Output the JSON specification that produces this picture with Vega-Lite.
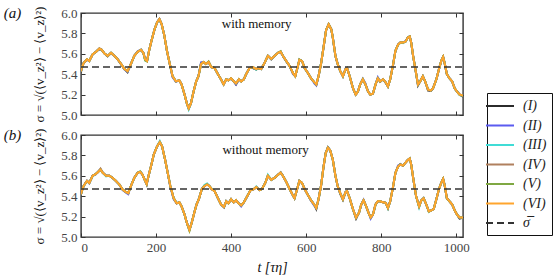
{
 "$schema": "https://vega.github.io/schema/vega-lite/v6.json",
 "padding": {"left": 3, "top": 5, "right": 2, "bottom": 5},
 "background": "white",
 "bounds": "flush",
 "spacing": 20,
 "config": {
  "font": "Liberation Serif",
  "view": {"stroke": "#333", "strokeWidth": 1.4},
  "axis": {"domain": false, "grid": false, "tickSize": -4, "tickColor": "#333", "tickWidth": 1, "labelFont": "Liberation Serif", "labelFontSize": 13, "labelColor": "#444", "labelPadding": 8, "titleFont": "Liberation Serif", "titleFontSize": 13, "titleFontWeight": "normal", "titleColor": "#111"},
  "legend": {"orient": "none", "legendX": 406, "legendY": 80, "strokeColor": "#111", "fillColor": "white", "padding": 5, "cornerRadius": 0, "symbolType": "M-2,0L2,0", "symbolSize": 196, "symbolStrokeWidth": 2, "rowPadding": 4.5, "labelFont": "Liberation Serif", "labelFontSize": 14, "labelFontStyle": "italic", "labelColor": "#222", "labelOffset": 15}
 },
 "datasets": {
  "a": [
   {"t":0,"I":5.42,"II":5.43,"III":5.43,"IV":5.43,"V":5.43,"VI":5.43},
   {"t":2,"I":5.46,"II":5.46,"III":5.46,"IV":5.46,"V":5.46,"VI":5.46},
   {"t":7,"I":5.51,"II":5.51,"III":5.51,"IV":5.51,"V":5.51,"VI":5.51},
   {"t":16,"I":5.545,"II":5.54,"III":5.545,"IV":5.545,"V":5.545,"VI":5.545},
   {"t":22,"I":5.53,"II":5.53,"III":5.53,"IV":5.53,"V":5.53,"VI":5.53},
   {"t":31,"I":5.595,"II":5.595,"III":5.595,"IV":5.595,"V":5.595,"VI":5.595},
   {"t":40,"I":5.62,"II":5.62,"III":5.62,"IV":5.62,"V":5.62,"VI":5.62},
   {"t":49,"I":5.645,"II":5.65,"III":5.65,"IV":5.655,"V":5.65,"VI":5.65},
   {"t":55,"I":5.64,"II":5.64,"III":5.64,"IV":5.64,"V":5.64,"VI":5.64},
   {"t":62,"I":5.605,"II":5.605,"III":5.605,"IV":5.605,"V":5.605,"VI":5.605},
   {"t":71,"I":5.575,"II":5.58,"III":5.58,"IV":5.58,"V":5.58,"VI":5.58},
   {"t":80,"I":5.61,"II":5.605,"III":5.61,"IV":5.61,"V":5.61,"VI":5.61},
   {"t":89,"I":5.58,"II":5.58,"III":5.58,"IV":5.58,"V":5.58,"VI":5.58},
   {"t":98,"I":5.545,"II":5.545,"III":5.545,"IV":5.545,"V":5.545,"VI":5.545},
   {"t":107,"I":5.495,"II":5.5,"III":5.5,"IV":5.5,"V":5.5,"VI":5.5},
   {"t":116,"I":5.45,"II":5.445,"III":5.45,"IV":5.45,"V":5.45,"VI":5.45},
   {"t":124,"I":5.42,"II":5.425,"III":5.43,"IV":5.43,"V":5.43,"VI":5.43},
   {"t":133,"I":5.5,"II":5.5,"III":5.5,"IV":5.5,"V":5.5,"VI":5.5},
   {"t":142,"I":5.58,"II":5.58,"III":5.58,"IV":5.58,"V":5.58,"VI":5.58},
   {"t":151,"I":5.62,"II":5.625,"III":5.62,"IV":5.62,"V":5.62,"VI":5.62},
   {"t":160,"I":5.64,"II":5.64,"III":5.64,"IV":5.64,"V":5.64,"VI":5.64},
   {"t":166,"I":5.61,"II":5.61,"III":5.61,"IV":5.61,"V":5.61,"VI":5.61},
   {"t":171,"I":5.545,"II":5.545,"III":5.535,"IV":5.545,"V":5.535,"VI":5.545},
   {"t":176,"I":5.53,"II":5.53,"III":5.53,"IV":5.53,"V":5.525,"VI":5.53},
   {"t":182,"I":5.64,"II":5.64,"III":5.64,"IV":5.64,"V":5.64,"VI":5.64},
   {"t":188,"I":5.73,"II":5.73,"III":5.73,"IV":5.73,"V":5.73,"VI":5.73},
   {"t":196,"I":5.84,"II":5.84,"III":5.84,"IV":5.84,"V":5.84,"VI":5.84},
   {"t":203,"I":5.91,"II":5.91,"III":5.91,"IV":5.91,"V":5.91,"VI":5.91},
   {"t":209,"I":5.94,"II":5.94,"III":5.935,"IV":5.94,"V":5.94,"VI":5.94},
   {"t":215,"I":5.89,"II":5.89,"III":5.89,"IV":5.89,"V":5.89,"VI":5.89},
   {"t":222,"I":5.78,"II":5.78,"III":5.78,"IV":5.78,"V":5.78,"VI":5.78},
   {"t":229,"I":5.63,"II":5.63,"III":5.63,"IV":5.63,"V":5.63,"VI":5.63},
   {"t":236,"I":5.51,"II":5.51,"III":5.51,"IV":5.51,"V":5.51,"VI":5.51},
   {"t":244,"I":5.38,"II":5.37,"III":5.38,"IV":5.38,"V":5.38,"VI":5.38},
   {"t":253,"I":5.33,"II":5.325,"III":5.33,"IV":5.33,"V":5.33,"VI":5.33},
   {"t":262,"I":5.34,"II":5.34,"III":5.34,"IV":5.34,"V":5.34,"VI":5.34},
   {"t":268,"I":5.3,"II":5.3,"III":5.3,"IV":5.3,"V":5.3,"VI":5.3},
   {"t":276,"I":5.2,"II":5.2,"III":5.2,"IV":5.2,"V":5.2,"VI":5.2},
   {"t":282,"I":5.115,"II":5.115,"III":5.115,"IV":5.115,"V":5.115,"VI":5.115},
   {"t":287,"I":5.065,"II":5.06,"III":5.055,"IV":5.065,"V":5.065,"VI":5.065},
   {"t":293,"I":5.115,"II":5.115,"III":5.115,"IV":5.115,"V":5.115,"VI":5.115},
   {"t":300,"I":5.23,"II":5.23,"III":5.23,"IV":5.23,"V":5.23,"VI":5.23},
   {"t":307,"I":5.33,"II":5.33,"III":5.33,"IV":5.33,"V":5.33,"VI":5.33},
   {"t":313,"I":5.38,"II":5.38,"III":5.38,"IV":5.38,"V":5.38,"VI":5.38},
   {"t":320,"I":5.51,"II":5.515,"III":5.5,"IV":5.5,"V":5.5,"VI":5.5},
   {"t":327,"I":5.515,"II":5.52,"III":5.52,"IV":5.52,"V":5.52,"VI":5.52},
   {"t":333,"I":5.5,"II":5.5,"III":5.5,"IV":5.5,"V":5.5,"VI":5.5},
   {"t":340,"I":5.52,"II":5.52,"III":5.52,"IV":5.52,"V":5.525,"VI":5.52},
   {"t":347,"I":5.47,"II":5.47,"III":5.47,"IV":5.47,"V":5.47,"VI":5.47},
   {"t":356,"I":5.46,"II":5.46,"III":5.46,"IV":5.46,"V":5.46,"VI":5.46},
   {"t":365,"I":5.4,"II":5.4,"III":5.4,"IV":5.4,"V":5.4,"VI":5.4},
   {"t":373,"I":5.35,"II":5.35,"III":5.35,"IV":5.35,"V":5.35,"VI":5.35},
   {"t":380,"I":5.3,"II":5.3,"III":5.3,"IV":5.3,"V":5.3,"VI":5.3},
   {"t":387,"I":5.35,"II":5.35,"III":5.35,"IV":5.35,"V":5.35,"VI":5.35},
   {"t":393,"I":5.34,"II":5.34,"III":5.34,"IV":5.34,"V":5.34,"VI":5.34},
   {"t":400,"I":5.36,"II":5.36,"III":5.36,"IV":5.36,"V":5.36,"VI":5.36},
   {"t":407,"I":5.33,"II":5.33,"III":5.33,"IV":5.33,"V":5.33,"VI":5.33},
   {"t":413,"I":5.3,"II":5.3,"III":5.31,"IV":5.31,"V":5.31,"VI":5.31},
   {"t":421,"I":5.35,"II":5.35,"III":5.35,"IV":5.35,"V":5.35,"VI":5.35},
   {"t":427,"I":5.33,"II":5.33,"III":5.33,"IV":5.33,"V":5.33,"VI":5.33},
   {"t":434,"I":5.35,"II":5.35,"III":5.35,"IV":5.35,"V":5.35,"VI":5.35},
   {"t":440,"I":5.4,"II":5.4,"III":5.4,"IV":5.4,"V":5.4,"VI":5.4},
   {"t":449,"I":5.46,"II":5.46,"III":5.46,"IV":5.46,"V":5.46,"VI":5.46},
   {"t":458,"I":5.46,"II":5.47,"III":5.47,"IV":5.47,"V":5.47,"VI":5.47},
   {"t":467,"I":5.445,"II":5.45,"III":5.445,"IV":5.45,"V":5.45,"VI":5.45},
   {"t":471,"I":5.46,"II":5.46,"III":5.46,"IV":5.46,"V":5.46,"VI":5.46},
   {"t":480,"I":5.45,"II":5.45,"III":5.45,"IV":5.45,"V":5.45,"VI":5.45},
   {"t":489,"I":5.51,"II":5.51,"III":5.51,"IV":5.51,"V":5.51,"VI":5.51},
   {"t":498,"I":5.58,"II":5.58,"III":5.58,"IV":5.58,"V":5.58,"VI":5.58},
   {"t":507,"I":5.545,"II":5.55,"III":5.55,"IV":5.55,"V":5.55,"VI":5.55},
   {"t":516,"I":5.58,"II":5.58,"III":5.58,"IV":5.58,"V":5.58,"VI":5.58},
   {"t":525,"I":5.61,"II":5.61,"III":5.61,"IV":5.61,"V":5.61,"VI":5.61},
   {"t":532,"I":5.62,"II":5.62,"III":5.62,"IV":5.62,"V":5.625,"VI":5.62},
   {"t":538,"I":5.58,"II":5.58,"III":5.58,"IV":5.58,"V":5.58,"VI":5.58},
   {"t":547,"I":5.525,"II":5.53,"III":5.53,"IV":5.53,"V":5.53,"VI":5.53},
   {"t":556,"I":5.48,"II":5.48,"III":5.48,"IV":5.48,"V":5.48,"VI":5.48},
   {"t":565,"I":5.41,"II":5.4,"III":5.41,"IV":5.41,"V":5.41,"VI":5.41},
   {"t":571,"I":5.38,"II":5.38,"III":5.38,"IV":5.38,"V":5.38,"VI":5.38},
   {"t":578,"I":5.48,"II":5.48,"III":5.48,"IV":5.48,"V":5.48,"VI":5.48},
   {"t":582,"I":5.54,"II":5.54,"III":5.54,"IV":5.54,"V":5.545,"VI":5.54},
   {"t":589,"I":5.53,"II":5.53,"III":5.53,"IV":5.53,"V":5.53,"VI":5.53},
   {"t":596,"I":5.46,"II":5.46,"III":5.46,"IV":5.46,"V":5.46,"VI":5.46},
   {"t":605,"I":5.41,"II":5.41,"III":5.41,"IV":5.41,"V":5.41,"VI":5.41},
   {"t":613,"I":5.36,"II":5.36,"III":5.36,"IV":5.36,"V":5.36,"VI":5.36},
   {"t":622,"I":5.32,"II":5.31,"III":5.32,"IV":5.32,"V":5.32,"VI":5.32},
   {"t":627,"I":5.295,"II":5.29,"III":5.3,"IV":5.3,"V":5.3,"VI":5.3},
   {"t":633,"I":5.38,"II":5.38,"III":5.38,"IV":5.38,"V":5.38,"VI":5.38},
   {"t":640,"I":5.51,"II":5.51,"III":5.51,"IV":5.51,"V":5.51,"VI":5.51},
   {"t":647,"I":5.68,"II":5.68,"III":5.68,"IV":5.68,"V":5.68,"VI":5.68},
   {"t":653,"I":5.83,"II":5.83,"III":5.83,"IV":5.83,"V":5.83,"VI":5.83},
   {"t":660,"I":5.89,"II":5.89,"III":5.89,"IV":5.89,"V":5.89,"VI":5.89},
   {"t":667,"I":5.84,"II":5.84,"III":5.84,"IV":5.84,"V":5.84,"VI":5.84},
   {"t":671,"I":5.76,"II":5.76,"III":5.76,"IV":5.76,"V":5.76,"VI":5.76},
   {"t":678,"I":5.58,"II":5.58,"III":5.58,"IV":5.58,"V":5.58,"VI":5.58},
   {"t":684,"I":5.5,"II":5.5,"III":5.5,"IV":5.5,"V":5.5,"VI":5.5},
   {"t":691,"I":5.43,"II":5.43,"III":5.43,"IV":5.43,"V":5.43,"VI":5.43},
   {"t":698,"I":5.38,"II":5.38,"III":5.38,"IV":5.38,"V":5.38,"VI":5.38},
   {"t":705,"I":5.45,"II":5.455,"III":5.45,"IV":5.45,"V":5.45,"VI":5.45},
   {"t":709,"I":5.46,"II":5.46,"III":5.46,"IV":5.46,"V":5.46,"VI":5.46},
   {"t":716,"I":5.38,"II":5.38,"III":5.38,"IV":5.38,"V":5.38,"VI":5.38},
   {"t":725,"I":5.26,"II":5.26,"III":5.26,"IV":5.26,"V":5.26,"VI":5.26},
   {"t":732,"I":5.2,"II":5.2,"III":5.2,"IV":5.2,"V":5.2,"VI":5.2},
   {"t":738,"I":5.23,"II":5.23,"III":5.23,"IV":5.23,"V":5.23,"VI":5.23},
   {"t":744,"I":5.3,"II":5.3,"III":5.3,"IV":5.3,"V":5.3,"VI":5.3},
   {"t":751,"I":5.35,"II":5.355,"III":5.35,"IV":5.35,"V":5.35,"VI":5.35},
   {"t":758,"I":5.3,"II":5.31,"III":5.3,"IV":5.3,"V":5.3,"VI":5.3},
   {"t":765,"I":5.23,"II":5.23,"III":5.23,"IV":5.23,"V":5.23,"VI":5.23},
   {"t":771,"I":5.2,"II":5.2,"III":5.2,"IV":5.2,"V":5.2,"VI":5.2},
   {"t":778,"I":5.21,"II":5.21,"III":5.21,"IV":5.21,"V":5.21,"VI":5.21},
   {"t":785,"I":5.3,"II":5.3,"III":5.3,"IV":5.3,"V":5.3,"VI":5.3},
   {"t":791,"I":5.36,"II":5.37,"III":5.36,"IV":5.36,"V":5.36,"VI":5.36},
   {"t":797,"I":5.325,"II":5.33,"III":5.33,"IV":5.33,"V":5.33,"VI":5.33},
   {"t":805,"I":5.35,"II":5.35,"III":5.35,"IV":5.35,"V":5.35,"VI":5.35},
   {"t":812,"I":5.315,"II":5.32,"III":5.32,"IV":5.32,"V":5.32,"VI":5.32},
   {"t":818,"I":5.28,"II":5.28,"III":5.28,"IV":5.28,"V":5.28,"VI":5.28},
   {"t":824,"I":5.35,"II":5.35,"III":5.35,"IV":5.35,"V":5.35,"VI":5.35},
   {"t":831,"I":5.48,"II":5.48,"III":5.48,"IV":5.48,"V":5.48,"VI":5.48},
   {"t":838,"I":5.63,"II":5.63,"III":5.63,"IV":5.63,"V":5.63,"VI":5.63},
   {"t":845,"I":5.69,"II":5.69,"III":5.685,"IV":5.69,"V":5.69,"VI":5.69},
   {"t":851,"I":5.71,"II":5.71,"III":5.71,"IV":5.71,"V":5.71,"VI":5.71},
   {"t":858,"I":5.71,"II":5.71,"III":5.705,"IV":5.71,"V":5.71,"VI":5.71},
   {"t":865,"I":5.72,"II":5.725,"III":5.72,"IV":5.72,"V":5.72,"VI":5.72},
   {"t":871,"I":5.76,"II":5.76,"III":5.76,"IV":5.76,"V":5.76,"VI":5.76},
   {"t":876,"I":5.77,"II":5.77,"III":5.77,"IV":5.77,"V":5.77,"VI":5.77},
   {"t":880,"I":5.71,"II":5.71,"III":5.71,"IV":5.71,"V":5.71,"VI":5.71},
   {"t":885,"I":5.58,"II":5.58,"III":5.58,"IV":5.58,"V":5.58,"VI":5.58},
   {"t":892,"I":5.43,"II":5.43,"III":5.43,"IV":5.43,"V":5.43,"VI":5.43},
   {"t":898,"I":5.29,"II":5.3,"III":5.3,"IV":5.3,"V":5.3,"VI":5.3},
   {"t":904,"I":5.33,"II":5.33,"III":5.33,"IV":5.33,"V":5.33,"VI":5.33},
   {"t":911,"I":5.38,"II":5.38,"III":5.38,"IV":5.38,"V":5.38,"VI":5.38},
   {"t":917,"I":5.33,"II":5.33,"III":5.33,"IV":5.33,"V":5.33,"VI":5.33},
   {"t":925,"I":5.24,"II":5.25,"III":5.25,"IV":5.245,"V":5.25,"VI":5.25},
   {"t":932,"I":5.235,"II":5.24,"III":5.24,"IV":5.24,"V":5.24,"VI":5.24},
   {"t":938,"I":5.26,"II":5.26,"III":5.26,"IV":5.26,"V":5.26,"VI":5.26},
   {"t":947,"I":5.35,"II":5.35,"III":5.35,"IV":5.35,"V":5.35,"VI":5.35},
   {"t":954,"I":5.45,"II":5.45,"III":5.45,"IV":5.45,"V":5.45,"VI":5.45},
   {"t":960,"I":5.53,"II":5.53,"III":5.53,"IV":5.53,"V":5.53,"VI":5.53},
   {"t":965,"I":5.57,"II":5.57,"III":5.57,"IV":5.57,"V":5.57,"VI":5.57},
   {"t":969,"I":5.51,"II":5.51,"III":5.51,"IV":5.51,"V":5.51,"VI":5.51},
   {"t":975,"I":5.4,"II":5.4,"III":5.4,"IV":5.4,"V":5.4,"VI":5.4},
   {"t":982,"I":5.36,"II":5.36,"III":5.36,"IV":5.36,"V":5.36,"VI":5.36},
   {"t":989,"I":5.33,"II":5.33,"III":5.33,"IV":5.33,"V":5.33,"VI":5.33},
   {"t":996,"I":5.26,"II":5.26,"III":5.26,"IV":5.26,"V":5.26,"VI":5.26},
   {"t":1002,"I":5.23,"II":5.23,"III":5.23,"IV":5.23,"V":5.23,"VI":5.23},
   {"t":1009,"I":5.2,"II":5.2,"III":5.195,"IV":5.2,"V":5.2,"VI":5.2},
   {"t":1018,"I":5.18,"II":5.19,"III":5.19,"IV":5.19,"V":5.19,"VI":5.19}
  ],
  "b": [
   {"t":0,"I":5.42,"II":5.42,"III":5.42,"IV":5.42,"V":5.42,"VI":5.42},
   {"t":2,"I":5.45,"II":5.45,"III":5.45,"IV":5.45,"V":5.45,"VI":5.45},
   {"t":7,"I":5.5,"II":5.5,"III":5.5,"IV":5.5,"V":5.5,"VI":5.5},
   {"t":16,"I":5.55,"II":5.55,"III":5.545,"IV":5.55,"V":5.55,"VI":5.55},
   {"t":22,"I":5.53,"II":5.525,"III":5.53,"IV":5.53,"V":5.53,"VI":5.53},
   {"t":31,"I":5.6,"II":5.6,"III":5.595,"IV":5.6,"V":5.6,"VI":5.6},
   {"t":40,"I":5.62,"II":5.615,"III":5.62,"IV":5.62,"V":5.62,"VI":5.62},
   {"t":46,"I":5.64,"II":5.64,"III":5.64,"IV":5.64,"V":5.64,"VI":5.64},
   {"t":52,"I":5.665,"II":5.66,"III":5.66,"IV":5.67,"V":5.66,"VI":5.66},
   {"t":58,"I":5.63,"II":5.63,"III":5.63,"IV":5.63,"V":5.63,"VI":5.63},
   {"t":67,"I":5.6,"II":5.6,"III":5.595,"IV":5.6,"V":5.6,"VI":5.6},
   {"t":76,"I":5.6,"II":5.6,"III":5.6,"IV":5.6,"V":5.6,"VI":5.6},
   {"t":84,"I":5.58,"II":5.58,"III":5.58,"IV":5.58,"V":5.58,"VI":5.58},
   {"t":93,"I":5.55,"II":5.55,"III":5.55,"IV":5.55,"V":5.55,"VI":5.55},
   {"t":102,"I":5.515,"II":5.515,"III":5.515,"IV":5.515,"V":5.515,"VI":5.515},
   {"t":111,"I":5.465,"II":5.46,"III":5.465,"IV":5.465,"V":5.465,"VI":5.465},
   {"t":120,"I":5.44,"II":5.435,"III":5.44,"IV":5.44,"V":5.44,"VI":5.44},
   {"t":126,"I":5.43,"II":5.42,"III":5.43,"IV":5.43,"V":5.43,"VI":5.43},
   {"t":133,"I":5.5,"II":5.5,"III":5.5,"IV":5.5,"V":5.5,"VI":5.5},
   {"t":142,"I":5.58,"II":5.58,"III":5.58,"IV":5.58,"V":5.58,"VI":5.58},
   {"t":151,"I":5.63,"II":5.63,"III":5.63,"IV":5.63,"V":5.63,"VI":5.63},
   {"t":158,"I":5.64,"II":5.64,"III":5.645,"IV":5.64,"V":5.64,"VI":5.64},
   {"t":164,"I":5.61,"II":5.61,"III":5.61,"IV":5.61,"V":5.61,"VI":5.61},
   {"t":171,"I":5.55,"II":5.55,"III":5.55,"IV":5.55,"V":5.55,"VI":5.55},
   {"t":175,"I":5.515,"II":5.52,"III":5.52,"IV":5.52,"V":5.52,"VI":5.52},
   {"t":180,"I":5.6,"II":5.6,"III":5.6,"IV":5.6,"V":5.6,"VI":5.6},
   {"t":187,"I":5.7,"II":5.7,"III":5.7,"IV":5.7,"V":5.7,"VI":5.7},
   {"t":194,"I":5.81,"II":5.81,"III":5.81,"IV":5.81,"V":5.81,"VI":5.81},
   {"t":203,"I":5.89,"II":5.89,"III":5.89,"IV":5.89,"V":5.89,"VI":5.89},
   {"t":210,"I":5.93,"II":5.93,"III":5.94,"IV":5.93,"V":5.93,"VI":5.93},
   {"t":216,"I":5.89,"II":5.89,"III":5.89,"IV":5.89,"V":5.89,"VI":5.89},
   {"t":224,"I":5.76,"II":5.76,"III":5.76,"IV":5.76,"V":5.76,"VI":5.76},
   {"t":231,"I":5.63,"II":5.63,"III":5.63,"IV":5.63,"V":5.63,"VI":5.63},
   {"t":238,"I":5.5,"II":5.49,"III":5.5,"IV":5.5,"V":5.5,"VI":5.5},
   {"t":247,"I":5.38,"II":5.37,"III":5.38,"IV":5.38,"V":5.38,"VI":5.38},
   {"t":255,"I":5.33,"II":5.33,"III":5.335,"IV":5.33,"V":5.33,"VI":5.33},
   {"t":262,"I":5.34,"II":5.34,"III":5.34,"IV":5.34,"V":5.34,"VI":5.34},
   {"t":268,"I":5.3,"II":5.3,"III":5.3,"IV":5.3,"V":5.3,"VI":5.3},
   {"t":276,"I":5.22,"II":5.22,"III":5.22,"IV":5.22,"V":5.22,"VI":5.22},
   {"t":282,"I":5.14,"II":5.14,"III":5.14,"IV":5.14,"V":5.14,"VI":5.14},
   {"t":289,"I":5.07,"II":5.07,"III":5.07,"IV":5.07,"V":5.06,"VI":5.07},
   {"t":295,"I":5.14,"II":5.14,"III":5.14,"IV":5.14,"V":5.14,"VI":5.14},
   {"t":302,"I":5.24,"II":5.24,"III":5.24,"IV":5.24,"V":5.24,"VI":5.24},
   {"t":308,"I":5.32,"II":5.32,"III":5.32,"IV":5.32,"V":5.32,"VI":5.32},
   {"t":314,"I":5.37,"II":5.37,"III":5.37,"IV":5.37,"V":5.37,"VI":5.37},
   {"t":322,"I":5.47,"II":5.47,"III":5.47,"IV":5.47,"V":5.47,"VI":5.47},
   {"t":329,"I":5.5,"II":5.5,"III":5.51,"IV":5.5,"V":5.5,"VI":5.5},
   {"t":336,"I":5.52,"II":5.515,"III":5.525,"IV":5.515,"V":5.515,"VI":5.515},
   {"t":342,"I":5.5,"II":5.5,"III":5.5,"IV":5.5,"V":5.5,"VI":5.5},
   {"t":348,"I":5.47,"II":5.47,"III":5.475,"IV":5.47,"V":5.47,"VI":5.47},
   {"t":356,"I":5.45,"II":5.45,"III":5.45,"IV":5.45,"V":5.45,"VI":5.45},
   {"t":365,"I":5.38,"II":5.38,"III":5.38,"IV":5.38,"V":5.38,"VI":5.38},
   {"t":373,"I":5.32,"II":5.32,"III":5.32,"IV":5.32,"V":5.32,"VI":5.32},
   {"t":381,"I":5.29,"II":5.295,"III":5.295,"IV":5.295,"V":5.295,"VI":5.295},
   {"t":387,"I":5.35,"II":5.35,"III":5.35,"IV":5.35,"V":5.35,"VI":5.35},
   {"t":393,"I":5.33,"II":5.33,"III":5.33,"IV":5.33,"V":5.33,"VI":5.33},
   {"t":400,"I":5.37,"II":5.37,"III":5.37,"IV":5.37,"V":5.37,"VI":5.37},
   {"t":407,"I":5.34,"II":5.34,"III":5.34,"IV":5.34,"V":5.34,"VI":5.34},
   {"t":413,"I":5.36,"II":5.36,"III":5.36,"IV":5.36,"V":5.36,"VI":5.36},
   {"t":420,"I":5.33,"II":5.33,"III":5.33,"IV":5.33,"V":5.33,"VI":5.33},
   {"t":427,"I":5.31,"II":5.3,"III":5.31,"IV":5.31,"V":5.31,"VI":5.31},
   {"t":434,"I":5.34,"II":5.34,"III":5.34,"IV":5.34,"V":5.34,"VI":5.34},
   {"t":443,"I":5.4,"II":5.4,"III":5.4,"IV":5.4,"V":5.4,"VI":5.4},
   {"t":452,"I":5.46,"II":5.46,"III":5.465,"IV":5.46,"V":5.46,"VI":5.46},
   {"t":461,"I":5.47,"II":5.47,"III":5.47,"IV":5.47,"V":5.47,"VI":5.47},
   {"t":467,"I":5.49,"II":5.49,"III":5.495,"IV":5.49,"V":5.49,"VI":5.49},
   {"t":476,"I":5.46,"II":5.46,"III":5.46,"IV":5.46,"V":5.46,"VI":5.46},
   {"t":482,"I":5.47,"II":5.47,"III":5.47,"IV":5.47,"V":5.47,"VI":5.47},
   {"t":491,"I":5.53,"II":5.53,"III":5.53,"IV":5.53,"V":5.53,"VI":5.53},
   {"t":498,"I":5.6,"II":5.6,"III":5.61,"IV":5.6,"V":5.6,"VI":5.6},
   {"t":507,"I":5.565,"II":5.56,"III":5.56,"IV":5.56,"V":5.56,"VI":5.56},
   {"t":516,"I":5.58,"II":5.58,"III":5.58,"IV":5.58,"V":5.58,"VI":5.58},
   {"t":525,"I":5.61,"II":5.61,"III":5.61,"IV":5.61,"V":5.61,"VI":5.61},
   {"t":532,"I":5.635,"II":5.63,"III":5.63,"IV":5.63,"V":5.63,"VI":5.63},
   {"t":538,"I":5.6,"II":5.6,"III":5.6,"IV":5.6,"V":5.6,"VI":5.6},
   {"t":547,"I":5.54,"II":5.54,"III":5.54,"IV":5.54,"V":5.54,"VI":5.54},
   {"t":556,"I":5.47,"II":5.47,"III":5.47,"IV":5.47,"V":5.47,"VI":5.47},
   {"t":563,"I":5.42,"II":5.42,"III":5.42,"IV":5.42,"V":5.42,"VI":5.42},
   {"t":569,"I":5.38,"II":5.38,"III":5.38,"IV":5.38,"V":5.38,"VI":5.38},
   {"t":576,"I":5.47,"II":5.47,"III":5.47,"IV":5.47,"V":5.47,"VI":5.47},
   {"t":582,"I":5.55,"II":5.55,"III":5.55,"IV":5.55,"V":5.55,"VI":5.55},
   {"t":589,"I":5.53,"II":5.53,"III":5.53,"IV":5.53,"V":5.53,"VI":5.53},
   {"t":596,"I":5.47,"II":5.47,"III":5.47,"IV":5.47,"V":5.47,"VI":5.47},
   {"t":605,"I":5.41,"II":5.41,"III":5.41,"IV":5.41,"V":5.41,"VI":5.41},
   {"t":613,"I":5.36,"II":5.355,"III":5.36,"IV":5.36,"V":5.36,"VI":5.36},
   {"t":621,"I":5.32,"II":5.31,"III":5.32,"IV":5.32,"V":5.32,"VI":5.32},
   {"t":627,"I":5.275,"II":5.28,"III":5.285,"IV":5.285,"V":5.285,"VI":5.285},
   {"t":633,"I":5.37,"II":5.37,"III":5.37,"IV":5.37,"V":5.37,"VI":5.37},
   {"t":640,"I":5.51,"II":5.51,"III":5.51,"IV":5.51,"V":5.51,"VI":5.51},
   {"t":646,"I":5.68,"II":5.68,"III":5.68,"IV":5.68,"V":5.68,"VI":5.68},
   {"t":652,"I":5.825,"II":5.82,"III":5.82,"IV":5.82,"V":5.82,"VI":5.82},
   {"t":658,"I":5.88,"II":5.875,"III":5.875,"IV":5.875,"V":5.875,"VI":5.875},
   {"t":664,"I":5.85,"II":5.85,"III":5.85,"IV":5.85,"V":5.85,"VI":5.85},
   {"t":671,"I":5.76,"II":5.76,"III":5.76,"IV":5.76,"V":5.76,"VI":5.76},
   {"t":678,"I":5.6,"II":5.6,"III":5.6,"IV":5.6,"V":5.6,"VI":5.6},
   {"t":684,"I":5.5,"II":5.5,"III":5.5,"IV":5.5,"V":5.5,"VI":5.5},
   {"t":691,"I":5.42,"II":5.43,"III":5.43,"IV":5.43,"V":5.43,"VI":5.43},
   {"t":698,"I":5.365,"II":5.37,"III":5.37,"IV":5.37,"V":5.37,"VI":5.37},
   {"t":705,"I":5.44,"II":5.44,"III":5.44,"IV":5.44,"V":5.44,"VI":5.44},
   {"t":709,"I":5.45,"II":5.45,"III":5.45,"IV":5.45,"V":5.45,"VI":5.45},
   {"t":716,"I":5.38,"II":5.38,"III":5.38,"IV":5.38,"V":5.38,"VI":5.38},
   {"t":725,"I":5.27,"II":5.27,"III":5.265,"IV":5.27,"V":5.27,"VI":5.27},
   {"t":733,"I":5.18,"II":5.19,"III":5.19,"IV":5.19,"V":5.19,"VI":5.19},
   {"t":741,"I":5.24,"II":5.24,"III":5.24,"IV":5.24,"V":5.24,"VI":5.24},
   {"t":747,"I":5.32,"II":5.32,"III":5.32,"IV":5.32,"V":5.32,"VI":5.32},
   {"t":753,"I":5.36,"II":5.365,"III":5.36,"IV":5.36,"V":5.36,"VI":5.36},
   {"t":760,"I":5.3,"II":5.3,"III":5.3,"IV":5.3,"V":5.3,"VI":5.3},
   {"t":766,"I":5.24,"II":5.24,"III":5.24,"IV":5.24,"V":5.24,"VI":5.24},
   {"t":772,"I":5.19,"II":5.18,"III":5.19,"IV":5.19,"V":5.19,"VI":5.19},
   {"t":778,"I":5.22,"II":5.22,"III":5.22,"IV":5.22,"V":5.22,"VI":5.22},
   {"t":785,"I":5.32,"II":5.32,"III":5.315,"IV":5.32,"V":5.32,"VI":5.32},
   {"t":791,"I":5.35,"II":5.35,"III":5.35,"IV":5.35,"V":5.35,"VI":5.35},
   {"t":797,"I":5.35,"II":5.35,"III":5.35,"IV":5.35,"V":5.35,"VI":5.35},
   {"t":805,"I":5.34,"II":5.34,"III":5.34,"IV":5.34,"V":5.34,"VI":5.34},
   {"t":812,"I":5.335,"II":5.335,"III":5.335,"IV":5.335,"V":5.335,"VI":5.335},
   {"t":818,"I":5.285,"II":5.285,"III":5.28,"IV":5.285,"V":5.285,"VI":5.285},
   {"t":824,"I":5.35,"II":5.35,"III":5.35,"IV":5.35,"V":5.35,"VI":5.35},
   {"t":831,"I":5.48,"II":5.48,"III":5.48,"IV":5.48,"V":5.48,"VI":5.48},
   {"t":838,"I":5.63,"II":5.63,"III":5.63,"IV":5.63,"V":5.63,"VI":5.63},
   {"t":845,"I":5.69,"II":5.7,"III":5.69,"IV":5.69,"V":5.69,"VI":5.69},
   {"t":851,"I":5.715,"II":5.71,"III":5.71,"IV":5.71,"V":5.71,"VI":5.71},
   {"t":858,"I":5.7,"II":5.7,"III":5.7,"IV":5.7,"V":5.7,"VI":5.7},
   {"t":865,"I":5.73,"II":5.73,"III":5.73,"IV":5.73,"V":5.73,"VI":5.73},
   {"t":871,"I":5.755,"II":5.755,"III":5.755,"IV":5.755,"V":5.755,"VI":5.755},
   {"t":876,"I":5.77,"II":5.77,"III":5.77,"IV":5.77,"V":5.77,"VI":5.77},
   {"t":880,"I":5.71,"II":5.71,"III":5.71,"IV":5.71,"V":5.71,"VI":5.71},
   {"t":886,"I":5.56,"II":5.56,"III":5.56,"IV":5.56,"V":5.56,"VI":5.56},
   {"t":893,"I":5.4,"II":5.4,"III":5.4,"IV":5.4,"V":5.4,"VI":5.4},
   {"t":901,"I":5.3,"II":5.3,"III":5.29,"IV":5.3,"V":5.3,"VI":5.3},
   {"t":907,"I":5.36,"II":5.36,"III":5.36,"IV":5.36,"V":5.36,"VI":5.36},
   {"t":913,"I":5.38,"II":5.38,"III":5.38,"IV":5.38,"V":5.38,"VI":5.38},
   {"t":920,"I":5.32,"II":5.32,"III":5.32,"IV":5.32,"V":5.32,"VI":5.32},
   {"t":927,"I":5.25,"II":5.25,"III":5.245,"IV":5.25,"V":5.25,"VI":5.25},
   {"t":933,"I":5.26,"II":5.26,"III":5.26,"IV":5.26,"V":5.26,"VI":5.26},
   {"t":940,"I":5.275,"II":5.275,"III":5.275,"IV":5.275,"V":5.275,"VI":5.275},
   {"t":947,"I":5.37,"II":5.37,"III":5.37,"IV":5.37,"V":5.37,"VI":5.37},
   {"t":954,"I":5.47,"II":5.47,"III":5.47,"IV":5.47,"V":5.47,"VI":5.47},
   {"t":960,"I":5.53,"II":5.53,"III":5.53,"IV":5.53,"V":5.53,"VI":5.53},
   {"t":965,"I":5.57,"II":5.57,"III":5.57,"IV":5.57,"V":5.57,"VI":5.57},
   {"t":969,"I":5.51,"II":5.51,"III":5.51,"IV":5.51,"V":5.51,"VI":5.51},
   {"t":975,"I":5.38,"II":5.38,"III":5.375,"IV":5.38,"V":5.38,"VI":5.38},
   {"t":982,"I":5.35,"II":5.35,"III":5.35,"IV":5.35,"V":5.35,"VI":5.35},
   {"t":989,"I":5.32,"II":5.32,"III":5.32,"IV":5.32,"V":5.32,"VI":5.32},
   {"t":996,"I":5.26,"II":5.26,"III":5.26,"IV":5.26,"V":5.26,"VI":5.26},
   {"t":1002,"I":5.22,"II":5.22,"III":5.22,"IV":5.22,"V":5.22,"VI":5.22},
   {"t":1009,"I":5.18,"II":5.19,"III":5.19,"IV":5.19,"V":5.19,"VI":5.19},
   {"t":1018,"I":5.19,"II":5.19,"III":5.19,"IV":5.19,"V":5.19,"VI":5.19}
  ],
  "mean": [{"s": "S", "t": 0, "v": 5.47}, {"s": "S", "t": 1018, "v": 5.47}],
  "annA": [{"t": 468, "v": 5.89, "txt": "with memory"}],
  "annB": [{"t": 492, "v": 5.85, "txt": "without memory"}]
 },
 "resolve": {"scale": {"color": "shared", "strokeDash": "shared"}, "legend": {"color": "shared", "strokeDash": "shared"}},
 "vconcat": [
  {
   "width": 382, "height": 102,
   "title": {"text": "(a)", "anchor": "start", "frame": "bounds", "dx": -30, "dy": 19, "fontSize": 15, "fontStyle": "italic", "fontWeight": "normal", "font": "Liberation Serif", "color": "#111"},
   "layer": [
    {
     "data": {"name": "a"},
     "transform": [{"fold": ["I", "II", "III", "IV", "V", "VI"], "as": ["s", "v"]}],
     "mark": {"type": "line", "strokeWidth": 2, "clip": true},
     "encoding": {
      "x": {"field": "t", "type": "quantitative", "scale": {"domain": [0, 1018], "nice": false, "zero": false}, "axis": {"labels": false, "title": null, "values": [0, 200, 400, 600, 800, 1000]}},
      "y": {"field": "v", "type": "quantitative", "scale": {"domain": [5, 6], "nice": false, "zero": false}, "axis": {"title": "σ = √(⟨v_z²⟩ − ⟨v_z⟩²)", "titleFontSize": 13, "values": [5, 5.2, 5.4, 5.6, 5.8, 6], "format": ".1f", "titlePadding": 14}},
      "color": {"field": "s", "type": "nominal", "scale": {"domain": ["I", "II", "III", "IV", "V", "VI", "S"], "range": ["#2b2b2b", "#5b5bf0", "#40dcd6", "#b0805e", "#7fa843", "#ffa52e", "#333333"]}, "legend": {"title": null, "labelExpr": "datum.value == 'S' ? 'σ̅' : '(' + datum.value + ')'"}},
      "strokeDash": {"field": "s", "type": "nominal", "scale": {"domain": ["I", "II", "III", "IV", "V", "VI", "S"], "range": [[1, 0], [1, 0], [1, 0], [1, 0], [1, 0], [1, 0], [7, 4]]}, "legend": {"title": null, "labelExpr": "datum.value == 'S' ? 'σ̅' : '(' + datum.value + ')'"}}
     }
    },
    {
     "data": {"name": "mean"},
     "mark": {"type": "line", "strokeWidth": 1.5},
     "encoding": {
      "x": {"field": "t", "type": "quantitative", "axis": null},
      "y": {"field": "v", "type": "quantitative", "axis": null},
      "color": {"field": "s", "type": "nominal"},
      "strokeDash": {"field": "s", "type": "nominal"}
     }
    },
    {
     "data": {"name": "annA"},
     "mark": {"type": "text", "fontSize": 13, "font": "Liberation Serif", "color": "#111"},
     "encoding": {
      "x": {"field": "t", "type": "quantitative", "axis": {"orient": "top", "labels": false, "title": null, "values": [0, 200, 400, 600, 800, 1000]}},
      "y": {"field": "v", "type": "quantitative", "axis": {"orient": "right", "labels": false, "title": null, "values": [5, 5.2, 5.4, 5.6, 5.8, 6]}},
      "text": {"field": "txt"}
     }
    }
   ],
   "resolve": {"axis": {"x": "independent", "y": "independent"}}
  },
  {
   "width": 382, "height": 102,
   "title": {"text": "(b)", "anchor": "start", "frame": "bounds", "dx": -30, "dy": 19, "fontSize": 15, "fontStyle": "italic", "fontWeight": "normal", "font": "Liberation Serif", "color": "#111"},
   "layer": [
    {
     "data": {"name": "b"},
     "transform": [{"fold": ["I", "II", "III", "IV", "V", "VI"], "as": ["s", "v"]}],
     "mark": {"type": "line", "strokeWidth": 2, "clip": true},
     "encoding": {
      "x": {"field": "t", "type": "quantitative", "scale": {"domain": [0, 1018], "nice": false, "zero": false}, "axis": {"title": "t [τη]", "titleFontStyle": "italic", "titleFontSize": 14, "titlePadding": 6, "values": [0, 200, 400, 600, 800, 1000], "format": "d"}},
      "y": {"field": "v", "type": "quantitative", "scale": {"domain": [5, 6], "nice": false, "zero": false}, "axis": {"title": "σ = √(⟨v_z²⟩ − ⟨v_z⟩²)", "titleFontSize": 13, "values": [5, 5.2, 5.4, 5.6, 5.8, 6], "format": ".1f", "titlePadding": 14}},
      "color": {"field": "s", "type": "nominal", "scale": {"domain": ["I", "II", "III", "IV", "V", "VI", "S"], "range": ["#2b2b2b", "#5b5bf0", "#40dcd6", "#b0805e", "#7fa843", "#ffa52e", "#333333"]}, "legend": {"title": null, "labelExpr": "datum.value == 'S' ? 'σ̅' : '(' + datum.value + ')'"}},
      "strokeDash": {"field": "s", "type": "nominal", "scale": {"domain": ["I", "II", "III", "IV", "V", "VI", "S"], "range": [[1, 0], [1, 0], [1, 0], [1, 0], [1, 0], [1, 0], [7, 4]]}, "legend": {"title": null, "labelExpr": "datum.value == 'S' ? 'σ̅' : '(' + datum.value + ')'"}}
     }
    },
    {
     "data": {"name": "mean"},
     "mark": {"type": "line", "strokeWidth": 1.5},
     "encoding": {
      "x": {"field": "t", "type": "quantitative", "axis": null},
      "y": {"field": "v", "type": "quantitative", "axis": null},
      "color": {"field": "s", "type": "nominal"},
      "strokeDash": {"field": "s", "type": "nominal"}
     }
    },
    {
     "data": {"name": "annB"},
     "mark": {"type": "text", "fontSize": 13, "font": "Liberation Serif", "color": "#111"},
     "encoding": {
      "x": {"field": "t", "type": "quantitative", "axis": {"orient": "top", "labels": false, "title": null, "values": [0, 200, 400, 600, 800, 1000]}},
      "y": {"field": "v", "type": "quantitative", "axis": {"orient": "right", "labels": false, "title": null, "values": [5, 5.2, 5.4, 5.6, 5.8, 6]}},
      "text": {"field": "txt"}
     }
    }
   ],
   "resolve": {"axis": {"x": "independent", "y": "independent"}}
  }
 ]
}
